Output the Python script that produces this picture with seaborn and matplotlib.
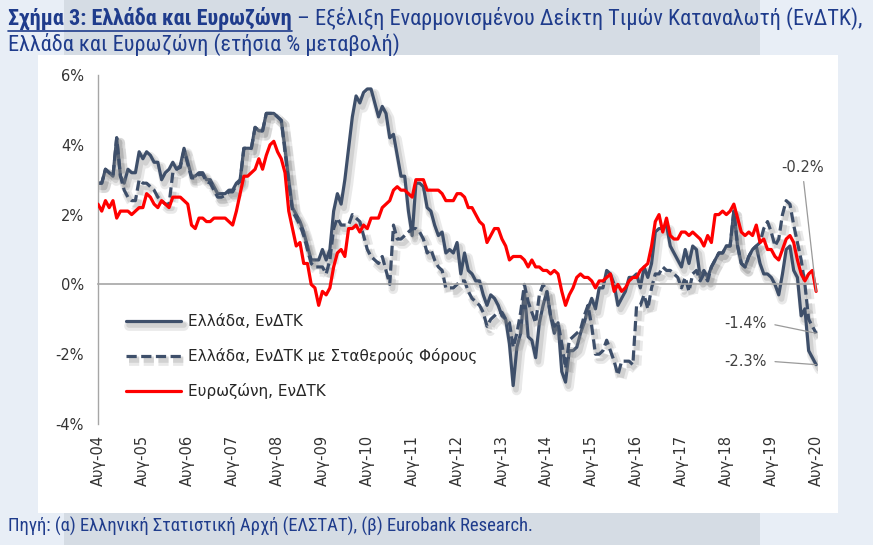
import numpy as np
import matplotlib
matplotlib.use("Agg")
import matplotlib.pyplot as plt
import seaborn as sns
from matplotlib import font_manager
from matplotlib import patheffects as pe
from matplotlib.patches import Rectangle
from matplotlib.lines import Line2D

# ---------------- data (monthly, Aug-2004 .. Aug-2020) ----------------
tick_labels = ["Αυγ-04", "Αυγ-05", "Αυγ-06", "Αυγ-07", "Αυγ-08", "Αυγ-09",
               "Αυγ-10", "Αυγ-11", "Αυγ-12", "Αυγ-13", "Αυγ-14", "Αυγ-15",
               "Αυγ-16", "Αυγ-17", "Αυγ-18", "Αυγ-19", "Αυγ-20"]

series_names = ["Ελλάδα, ΕνΔΤΚ", "Ελλάδα, ΕνΔΤΚ με Σταθερούς Φόρους", "Ευρωζώνη, ΕνΔΤΚ"]

greece_hicp = [
    2.9, 2.9, 3.3, 3.2, 3.1,
    4.2, 3.1, 2.9, 3.3, 3.2, 3.2, 3.8, 3.6, 3.8, 3.7, 3.5, 3.5,
    3.0, 3.2, 3.3, 3.5, 3.3, 3.4, 3.9, 3.5, 3.1, 3.1, 3.2, 3.2,
    3.0, 3.0, 2.8, 2.6, 2.6, 2.6, 2.7, 2.7, 2.9, 3.0, 3.9, 3.9,
    3.9, 4.5, 4.4, 4.4, 4.9, 4.9, 4.9, 4.8, 4.7, 3.9, 3.0, 2.2,
    2.0, 1.8, 1.5, 1.1, 0.7, 0.7, 0.7, 1.0, 0.7, 1.0, 2.1, 2.6,
    2.3, 3.0, 3.9, 4.8, 5.4, 5.2, 5.5, 5.6, 5.6, 5.2, 4.8, 5.1,
    4.9, 4.2, 4.3, 3.7, 3.1, 3.1, 2.1, 1.4, 2.9, 2.9, 2.8, 2.2,
    2.1, 1.7, 1.4, 1.5, 0.9, 1.0, 0.9, 1.2, 0.3, 0.9, 0.4, 0.3,
    0.1, 0.1, -0.3, -0.6, -0.3, -0.4, -0.6, -0.9, -1.0, -1.7, -2.9, -1.8,
    -1.4, -0.2, -1.5, -1.6, -2.1, -1.1, -0.6, -0.2, -0.9, -1.4, -1.1, -2.5,
    -2.8, -1.9, -1.9, -1.8, -1.4, -1.1, -0.7, -0.4, -0.7, -0.1, -0.1, 0.4,
    0.3, 0.0, -0.6, -0.4, -0.2, 0.2, 0.2, 0.3, -0.1, 0.5, 0.2, 0.6,
    1.5, 1.6, 1.6, 1.7, 1.1, 0.9, 0.7, 0.5, 1.0, 0.6, 1.1, 1.0,
    0.2, 0.4, 0.2, 0.5, 0.7, 0.9, 0.9, 1.1, 1.1, 2.1, 1.1, 0.6,
    0.5, 0.8, 1.0, 1.1, 0.6, 0.3, 0.3, 0.2, 0.0, -0.3, 0.3, 1.0,
    1.1, 0.4, 0.2, -0.9, -0.7, -1.9, -2.1, -2.3,
]

greece_hicp_ct = [
    2.9, 2.9, 3.3, 3.2, 3.1,
    4.2, 3.1, 2.7, 2.5, 2.4, 2.4, 3.0, 2.9, 2.9, 2.8, 2.7, 2.5,
    2.4, 2.3, 2.3, 3.2, 3.3, 3.35, 3.85, 3.45, 3.05, 3.05, 3.15, 3.15,
    2.95, 2.9, 2.7, 2.5, 2.5, 2.55, 2.65, 2.65, 2.85, 2.95, 3.9, 3.9,
    3.9, 4.5, 4.4, 4.4, 4.9, 4.9, 4.9, 4.8, 4.7, 3.8, 2.9, 2.1,
    1.9, 1.7, 1.4, 1.0, 0.6, 0.5, 0.5, 0.5, 0.3, 0.7, 1.6, 1.9,
    1.7, 1.7, 1.7, 2.0, 1.9, 1.8, 1.4, 1.0, 0.8, 0.7, 0.6, 0.8,
    0.4, 0.0, 1.7, 1.3, 1.3, 1.4, 1.5, 1.6, 1.6, 1.5, 1.3, 0.9,
    1.0, 0.7, 0.5, 0.4, -0.1, -0.1, -0.1, 0.0, 0.1, 0.1, -0.2, -0.4,
    -0.5, -0.6, -0.8, -1.2, -1.0, -0.9, -0.8, -0.8, -1.0, -1.1, -1.8, -1.4,
    -0.8, 0.0, -0.5, -0.8, -1.1, -0.3, 0.0, -0.2, -0.9, -1.2, -1.1, -1.7,
    -2.4, -1.6, -1.5, -1.4, -1.3, -0.9, -0.6, -1.2, -2.0, -2.0, -1.9, -1.6,
    -1.9, -2.2, -2.6, -2.2, -2.2, -2.2, -2.3, -0.6, -0.6, -0.3, -0.7, -0.1,
    0.3, 0.3, 0.5, 0.4, 0.4, 0.3, 0.2, -0.1, 0.2, -0.2, 0.3, 0.4,
    0.1, 0.3, 0.1, 0.5, 0.7, 0.9, 0.9, 1.1, 1.1, 2.1, 1.1, 0.6,
    0.5, 0.8, 1.0, 1.1, 1.2, 1.6, 1.8, 1.5, 1.1, 1.3, 2.0, 2.4,
    2.3, 1.7, 1.2, 0.7, 0.0, -1.0, -1.2, -1.4,
]

eurozone_hicp = [
    2.3, 2.1, 2.4, 2.2, 2.4,
    1.9, 2.1, 2.1, 2.1, 2.0, 2.1, 2.2, 2.2, 2.6, 2.5, 2.3, 2.2,
    2.4, 2.3, 2.2, 2.5, 2.5, 2.5, 2.4, 2.3, 1.7, 1.6, 1.9, 1.9,
    1.8, 1.8, 1.9, 1.9, 1.9, 1.9, 1.8, 1.7, 2.1, 2.6, 3.1, 3.1,
    3.2, 3.3, 3.6, 3.3, 3.7, 4.0, 4.1, 3.8, 3.6, 3.2, 2.1, 1.6,
    1.1, 1.2, 0.6, 0.6, 0.0, -0.1, -0.6, -0.2, -0.3, -0.1, 0.5, 0.9,
    1.0, 0.8, 1.6, 1.6, 1.7, 1.5, 1.7, 1.6, 1.9, 1.9, 1.9, 2.2,
    2.3, 2.4, 2.7, 2.8, 2.7, 2.7, 2.6, 2.5, 3.0, 3.0, 3.0, 2.7,
    2.7, 2.7, 2.7, 2.6, 2.4, 2.4, 2.4, 2.6, 2.6, 2.5, 2.2, 2.2,
    2.0, 1.8, 1.7, 1.2, 1.4, 1.6, 1.6, 1.3, 1.1, 0.7, 0.8, 0.8,
    0.8, 0.7, 0.5, 0.7, 0.5, 0.5, 0.4, 0.4, 0.3, 0.4, 0.3, -0.2,
    -0.6, -0.3, -0.1, 0.2, 0.3, 0.2, 0.2, 0.1, -0.1, 0.1, 0.1, 0.2,
    0.3, -0.2, 0.0, -0.2, -0.1, 0.1, 0.2, 0.2, 0.4, 0.5, 0.6, 1.1,
    1.8, 2.0, 1.5, 1.9, 1.4, 1.3, 1.3, 1.5, 1.5, 1.4, 1.5, 1.4,
    1.3, 1.1, 1.4, 1.2, 2.0, 2.0, 2.1, 2.0, 2.1, 2.3, 1.9, 1.5,
    1.4, 1.5, 1.4, 1.7, 1.2, 1.3, 1.0, 1.0, 0.8, 0.7, 1.0, 1.3,
    1.4, 1.2, 0.7, 0.3, 0.1, 0.3, 0.4, -0.2,
]

# ---------------- style ----------------
sns.set_style("white")


def pick(fams):
    avail = {f.name for f in font_manager.fontManager.ttflist}
    for f in fams:
        if f in avail:
            return f
    return "DejaVu Sans"


NARROW = pick(["Liberation Sans Narrow", "Roboto Condensed", "Open Sans Condensed",
               "Roboto", "DejaVu Sans"])
plt.rcParams["font.family"] = ["DejaVu Sans"]

W, H = 873, 545
GR = "#3e4f6a"
RED = "#ff0000"
BLUE_TXT = "#1f3c8c"

fig = plt.figure(figsize=(W / 100, H / 100), dpi=100)
fig.patch.set_facecolor("#e8eef6")


def fx(px):
    return px / W


def fy(py):
    return 1 - py / H


fig.add_artist(Rectangle((fx(64), 0), fx(760) - fx(64), 1, transform=fig.transFigure,
                         facecolor="#d5dce4", edgecolor="none", zorder=-10))
fig.add_artist(Rectangle((fx(38), fy(513)), fx(838) - fx(38), fy(55) - fy(513),
                         transform=fig.transFigure, facecolor="white", edgecolor="none",
                         zorder=-9))

ax = fig.add_axes([fx(98), fy(424), fx(818) - fx(98), fy(75) - fy(424)])
ax.set_facecolor("none")

x = np.arange(len(greece_hicp))
lw = 2.3
sns.lineplot(x=x, y=greece_hicp, ax=ax, color=GR, linewidth=lw, label=series_names[0])
sns.lineplot(x=x, y=greece_hicp_ct, ax=ax, color=GR, linewidth=lw, linestyle=(0, (3.2, 1.4)),
             label=series_names[1])
sns.lineplot(x=x, y=eurozone_hicp, ax=ax, color=RED, linewidth=lw, label=series_names[2])

shadow = [pe.SimpleLineShadow(offset=(2.5, -3.5), shadow_color="#8a8a8a", alpha=0.18, linewidth=7),
          pe.SimpleLineShadow(offset=(2, -3), shadow_color="#8a8a8a", alpha=0.25, linewidth=4),
          pe.Normal()]
for ln in ax.lines[:2]:
    ln.set_path_effects(shadow)
ax.lines[2].set_zorder(3)

ax.set_xlim(0, len(x) - 0.5)
ax.set_ylim(-4, 6)
ax.set_yticks([-4, -2, 0, 2, 4, 6])
ax.set_yticklabels([f"{v}%" for v in [-4, -2, 0, 2, 4, 6]])
ax.set_xticks(np.arange(0, len(x), 12))
ax.tick_params(axis="x", which="both", direction="out", length=4, width=1, color="#a6a6a6",
               labelbottom=False)
ax.tick_params(axis="y", direction="out", length=4, width=1, color="#a6a6a6",
               labelsize=10.5, labelcolor="#333333", pad=6)
for s in ["top", "right"]:
    ax.spines[s].set_visible(False)
ax.spines["left"].set_color("#a6a6a6")
ax.spines["left"].set_linewidth(1)
ax.spines["bottom"].set_position(("data", 0))
ax.spines["bottom"].set_color("#a6a6a6")
ax.spines["bottom"].set_linewidth(1.2)
ax.set_xlabel("")
ax.set_ylabel("")

sec = ax.secondary_xaxis("bottom")
sec.set_xticks(np.arange(0, len(x), 12))
sec.set_xticklabels(tick_labels, rotation=90, fontsize=10.5, color="#333333")
sec.tick_params(length=0, pad=8)
sec.spines["bottom"].set_visible(False)

# legend
handles, labels = ax.get_legend_handles_labels()
ax.legend(handles, labels, loc="upper left", bbox_to_anchor=(fx(126), fy(314)),
          bbox_transform=fig.transFigure, frameon=False, fontsize=11,
          handlelength=3.6, handletextpad=0.45, labelspacing=1.25,
          borderpad=0, borderaxespad=0, labelcolor="#262626")

# end-point annotations
ann = dict(textcoords="figure pixels", fontsize=10.5, color="#404040", va="center")
ax.annotate(f"{eurozone_hicp[-1]:.1f}%", xy=(x[-1], eurozone_hicp[-1]), xytext=(803, H - 168),
            ha="center", arrowprops=dict(arrowstyle="-", color="#9a9a9a", lw=0.9,
                                         relpos=(0.5, 0), shrinkA=2, shrinkB=0), **ann)
ax.annotate(f"{greece_hicp_ct[-1]:.1f}%", xy=(x[-1], greece_hicp_ct[-1]), xytext=(745, H - 323),
            ha="center", arrowprops=dict(arrowstyle="-", color="#9a9a9a", lw=0.9,
                                         relpos=(1, 0.5), shrinkA=4, shrinkB=0), **ann)
ax.annotate(f"{greece_hicp[-1]:.1f}%", xy=(x[-1], greece_hicp[-1]), xytext=(745, H - 361),
            ha="center", arrowprops=dict(arrowstyle="-", color="#9a9a9a", lw=0.9,
                                         relpos=(1, 0.5), shrinkA=4, shrinkB=0), **ann)

# ---------------- title & source ----------------
renderer = fig.canvas.get_renderer()


def width_px(t):
    return t.get_window_extent(renderer).width


fs = 14
t1b = fig.text(fx(8), fy(18), "Σχήμα 3: Ελλάδα και Ευρωζώνη", fontsize=fs, fontweight="bold",
               color=BLUE_TXT, va="center", ha="left", family=[NARROW, "DejaVu Sans"])
t1n = fig.text(0, fy(18), " – Εξέλιξη Εναρμονισμένου Δείκτη Τιμών Καταναλωτή (ΕνΔΤΚ),",
               fontsize=fs, color=BLUE_TXT, va="center", ha="left", family=[NARROW, "DejaVu Sans"])
t2 = fig.text(fx(8), fy(44), "Ελλάδα και Ευρωζώνη (ετήσια % μεταβολή)", fontsize=fs,
              color=BLUE_TXT, va="center", ha="left", family=[NARROW, "DejaVu Sans"])
total = width_px(t1b) + width_px(t1n)
fs2 = fs * 858 / total
for t in (t1b, t1n, t2):
    t.set_fontsize(fs2)
wb = width_px(t1b)
t1n.set_x(fx(8 + wb))
ext = t1b.get_window_extent(renderer)
fig.add_artist(Line2D([fx(8), fx(8 + wb)], [ext.y0 / H - 1.5 / H] * 2, transform=fig.transFigure,
                      color=BLUE_TXT, lw=1.2))

src = fig.text(fx(8), fy(526), "Πηγή: (α) Ελληνική Στατιστική Αρχή (ΕΛΣΤΑΤ), (β) Eurobank Research.",
               fontsize=11, color=BLUE_TXT, va="center", ha="left", family=[NARROW, "DejaVu Sans"])
src.set_fontsize(11 * 526 / width_px(src))

fig.savefig("out.png", dpi=100, facecolor=fig.get_facecolor())
